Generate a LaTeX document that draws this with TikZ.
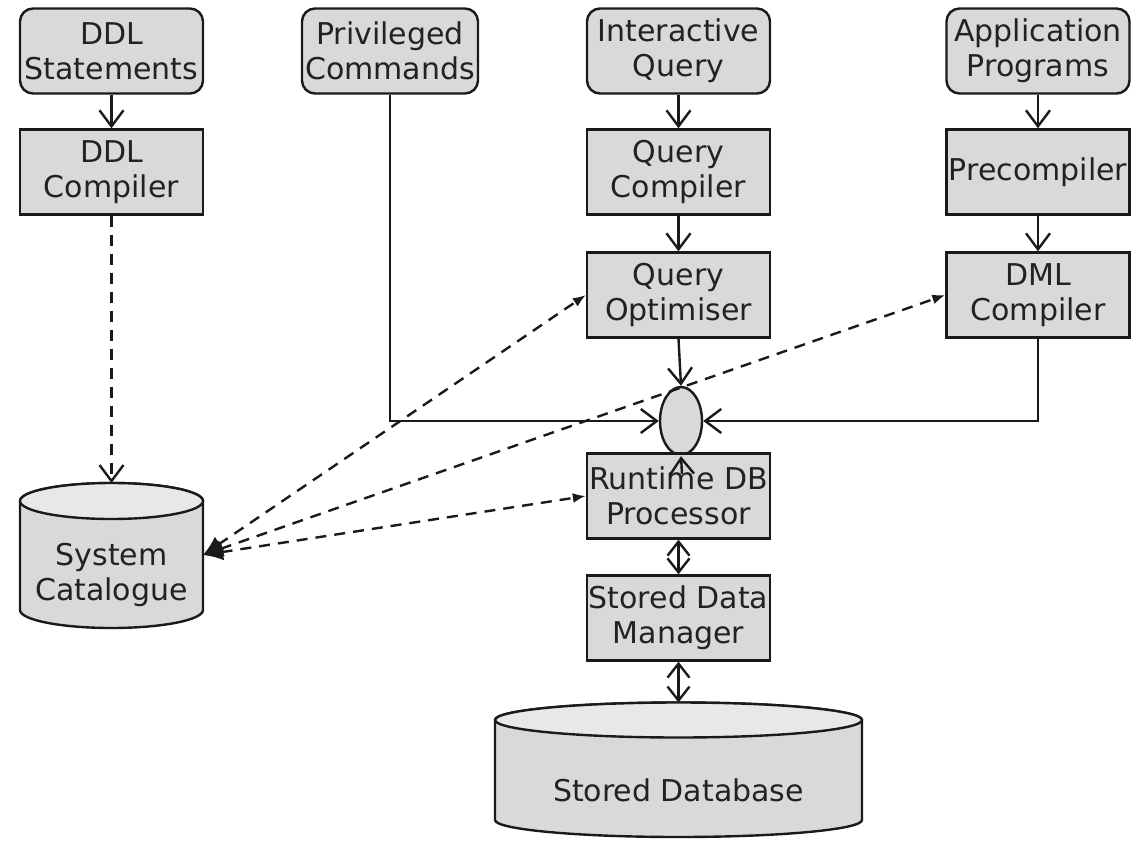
\documentclass[tikz,border=0pt]{standalone}
\usepackage{fontspec}
\setmainfont{DejaVu Sans}
\usetikzlibrary{arrows.meta,shapes.geometric}
\definecolor{boxfill}{HTML}{D9D9D9}
\definecolor{topfill}{HTML}{E8E8E8}
\definecolor{ink}{HTML}{1A1A1A}
\definecolor{txt}{HTML}{222222}
\newcommand{\zw}[1]{\makebox[0pt]{#1}}
\begin{document}
\begin{tikzpicture}[x=1pt,y=-1pt,
  every node/.style={font=\fontsize{30}{35}\selectfont, text=txt, align=center},
  procbox/.style={draw=ink, line width=2.4pt, fill=boxfill, minimum width=183pt, minimum height=85pt, inner sep=0pt, align=center},
  srcbox/.style={procbox, rounded corners=13pt},
  junction/.style={draw=ink, line width=2.4pt, fill=boxfill, ellipse, minimum width=42pt, minimum height=68pt, inner sep=0pt},
  conn/.style={draw=ink, line width=2.4pt, -{Straight Barb[length=16pt,width=24pt]}},
  bothconn/.style={draw=ink, line width=2.4pt, {Straight Barb[length=14pt,width=22pt]}-{Straight Barb[length=14pt,width=22pt]}},
  dconn/.style={conn, dash pattern=on 11pt off 8pt},
  catlink/.style={draw=ink, line width=2.4pt, dash pattern=on 11pt off 8pt, {Latex[length=20pt,width=17pt]}-{Latex[length=13pt,width=10pt]}},
  cylbody/.style={draw=ink, line width=2.4pt, fill=boxfill},
  cyltop/.style={draw=ink, line width=2.4pt, fill=topfill}
]
\useasboundingbox (0,0) rectangle (1142,845);

% source boxes
\node[srcbox] (ddls) at (111.5,51) {\zw{DDL}\\\zw{Statements}};
\node[srcbox, minimum width=176pt] (pc) at (390,51) {\zw{Privileged}\\\zw{Commands}};
\node[srcbox] (iq) at (678.5,51) {\zw{Interactive}\\\zw{Query}};
\node[srcbox] (ap) at (1038,51) {\zw{Application}\\\zw{Programs}};

% process boxes
\node[procbox] (ddlc) at (111.5,172) {\zw{DDL}\\\zw{Compiler}};
\node[procbox] (qc) at (678.5,172) {\zw{Query}\\\zw{Compiler}};
\node[procbox] (prc) at (1038,172) {\zw{Precompiler}};
\node[procbox] (qo) at (678.5,295) {\zw{Query}\\\zw{Optimiser}};
\node[procbox] (dml) at (1038,295) {\zw{DML}\\\zw{Compiler}};
\node[junction] (junc) at (681,421) {};
\node[procbox] (rt) at (678.5,496) {\zw{Runtime DB}\\\zw{Processor}};
\node[procbox] (sdm) at (678.5,618) {\zw{Stored Data}\\\zw{Manager}};

% System Catalogue cylinder
\path[cylbody] (20,501) -- (20,610) arc (180:0:91.5 and 18) -- (203,501) arc (0:-180:91.5 and 18) -- cycle;
\path[cyltop] (111.5,501) ellipse (91.5 and 18);
\node (cat) at (111.5,575) {\zw{System}\\\zw{Catalogue}};
\coordinate (cattop) at (111.5,483);
\coordinate (catR) at (203,555);

% Stored Database cylinder
\path[cylbody] (495,720) -- (495,820) arc (180:0:183.5 and 17) -- (862,720) arc (0:-180:183.5 and 17.5) -- cycle;
\path[cyltop] (678.5,720) ellipse (183.5 and 17.5);
\node (db) at (678.5,790) {Stored Database};
\coordinate (dbtop) at (678.5,702.5);

% connectors
\draw[conn] (ddls) -- (ddlc);
\draw[dconn] (ddlc) -- (cattop);
\draw[conn] (iq) -- (qc);
\draw[conn] (qc) -- (qo);
\draw[conn] (ap) -- (prc);
\draw[conn] (prc) -- (dml);
\draw[conn] (qo.south) -- (junc.north);
\draw[conn] (pc.south) |- (junc.west);
\draw[conn] (dml.south) |- (junc.east);
\coordinate (rtin) at (682,474);
\draw[conn] (rtin) -- (junc.south);
\draw[bothconn] (rt) -- (sdm);
\draw[bothconn] (sdm) -- (dbtop);

% catalogue links
\draw[catlink] (catR) -- (qo.west);
\draw[catlink] (catR) -- (dml.west);
\draw[catlink] (catR) -- (rt.west);
\end{tikzpicture}
\end{document}
